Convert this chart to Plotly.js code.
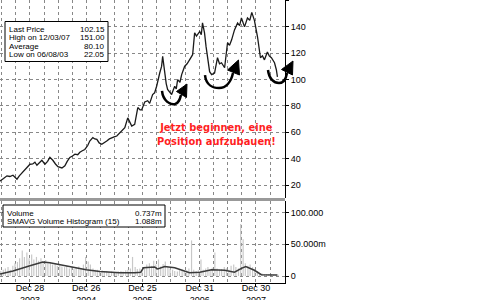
<!DOCTYPE html>
<html><head><meta charset="utf-8">
<script src="https://cdn.plot.ly/plotly-3.0.1.min.js"></script>
<style>html,body{margin:0;padding:0;background:#fff}#chart{width:480px;height:300px}</style>
</head><body><div id="chart"></div>
<script>
// ---- data ----
const priceDates = ['2003-06-10','2003-06-20','2003-07-10','2003-08-01','2003-08-20','2003-09-09','2003-09-25','2003-10-05','2003-10-20','2003-11-13','2003-12-05','2003-12-28','2004-01-15','2004-01-29','2004-02-11','2004-02-25','2004-03-14','2004-04-03','2004-04-20','2004-05-05','2004-05-24','2004-06-10','2004-06-26','2004-07-22','2004-08-10','2004-08-25','2004-09-11','2004-09-28','2004-10-14','2004-11-01','2004-11-15','2004-12-01','2004-12-17','2005-01-05','2005-01-18','2005-02-07','2005-02-20','2005-03-05','2005-03-20','2005-04-06','2005-04-22','2005-05-08','2005-05-25','2005-06-10','2005-06-25','2005-07-12','2005-07-28','2005-08-13','2005-09-02','2005-09-21','2005-10-05','2005-10-17','2005-11-05','2005-11-25','2005-12-10','2005-12-20','2006-01-09','2006-01-28','2006-02-10','2006-03-01','2006-03-14','2006-03-27','2006-04-16','2006-04-28','2006-05-05','2006-05-18','2006-05-28','2006-06-06','2006-06-20','2006-07-02','2006-07-12','2006-07-22','2006-08-01','2006-08-10','2006-08-25','2006-09-05','2006-09-24','2006-10-10','2006-10-26','2006-11-15','2006-11-28','2006-12-10','2006-12-31','2007-01-10','2007-01-18','2007-01-31','2007-02-10','2007-02-20','2007-03-05','2007-03-18','2007-04-06','2007-04-25','2007-05-08','2007-05-21','2007-06-10','2007-06-29','2007-07-12','2007-07-25','2007-08-13','2007-09-02','2007-09-15','2007-09-27','2007-10-17','2007-11-05','2007-11-20','2007-12-03','2007-12-20','2008-01-09','2008-01-28','2008-02-10','2008-02-23','2008-03-13','2008-03-25','2008-04-08','2008-04-28','2008-05-10','2008-05-17'];
const priceValues = [22.5,23.2,25,27,26.5,27.5,26,24.5,27,29.8,33,35.8,36,37.3,35,37,38.8,35.8,38,41,38.8,36,34,33,34.6,38,41,42,43.4,43,44.9,46,47,50,53.4,56,55,54.7,52,51,52,53.4,55,56,56.5,57.2,59,61,63.5,71,67,64.8,66,78.8,77,77,83,84,82,88.7,90,95,105,110,117.6,105,97,92.5,90,88.7,92,95,93,100,98,103.8,110,112,115,118.9,135.5,133,136.5,134,143,135.5,125,115,106,103.8,105,116.6,112,112.8,109,128,126,130,137.7,143,141,146.8,140,146.8,145,151,145,132.5,116.6,118,115,121,118,116.6,112.8,107.5,102.15];

const volMonths = ['2003-06','2003-07','2003-08','2003-09','2003-10','2003-11','2003-12','2004-01','2004-02','2004-03','2004-04','2004-05','2004-06','2004-07','2004-08','2004-09','2004-10','2004-11','2004-12','2005-01','2005-02','2005-03','2005-04','2005-05','2005-06','2005-07','2005-08','2005-09','2005-10','2005-11','2005-12','2006-01','2006-02','2006-03','2006-04','2006-05','2006-06','2006-07','2006-08','2006-09','2006-10','2006-11','2006-12','2007-01','2007-02','2007-03','2007-04','2007-05','2007-06','2007-07','2007-08','2007-09','2007-10','2007-11','2007-12','2008-01','2008-02','2008-03','2008-04','2008-05'];
const volFirstHalf  = [6,10,14,16,22,40,37,34,30,28,25,22,20,17,14,12,11,15,18,23,12,10,9,8,7,6,8,9,12,14,12,14,20,24,26,19,14,10,7,10,9,56,8,26,12,11,37,10,14,10,18,12,58,16,14,8,4,3,3,2];
const volSecondHalf = [8,12,10,20,28,30,28,26,24,22,20,18,16,15,16,14,13,12,30,18,10,8,7,6,6,7,7,10,30,11,10,18,16,18,15,23,12,8,9,8,12,10,9,10,14,13,12,11,12,16,14,82,20,18,10,5,3,3,2,2];

const smaDates  = ['2003-06-17','2003-09-09','2003-12-28','2004-03-20','2004-05-05','2004-07-10','2004-10-14','2004-12-26','2005-03-25','2005-07-30','2005-11-05','2005-12-14','2006-01-01','2006-03-14','2006-04-03','2006-05-18','2006-07-22','2006-10-26','2006-12-31','2007-03-18','2007-06-10','2007-08-13','2007-09-27','2007-10-25','2007-12-20','2008-02-03','2008-05-17'];
const smaValues = [3,8,16,22,21,18,13,10,7,5,5,6,13,14,11,15,13,5,6,10,9,6,12,15,9,2,1.5];

const gridDates = ['2003-06-29','2003-09-28','2003-12-28','2004-03-28','2004-06-27','2004-09-26','2004-12-26','2005-03-27','2005-06-26','2005-09-25','2005-12-25','2006-03-26','2006-06-25','2006-10-01','2006-12-31','2007-04-01','2007-07-01','2007-09-30','2007-12-30','2008-03-30','2008-06-29'];
const yearTickDates = ['2003-12-28','2004-12-26','2005-12-25','2006-12-31','2007-12-30'];
const yearTickText  = ['Dec 28<br>2003','Dec 26<br>2004','Dec 25<br>2005','Dec 31<br>2006','Dec 30<br>2007'];
const priceTicks = [20,40,60,80,100,120,140,160];
const volTicks = [0,50,100];
const volTickText = ['0','50.000m','100.000'];

const infoLabels = ['Last Price','High on 12/03/07','Average','Low on 06/08/03'];
const infoValues = ['102.15','151.00','80.10','22.05'];
const volLabels = ['Volume','SMAVG Volume Histogram (15)'];
const volLegendValues = ['0.737m','1.088m'];
const callout = 'Jetzt beginnen, eine<br>Position aufzubauen!';

// build volume bar arrays
const volDates = [], volValues = [];
volMonths.forEach((m,i)=>{ volDates.push(m+'-08'); volValues.push(volFirstHalf[i]); volDates.push(m+'-22'); volValues.push(volSecondHalf[i]); });

// ---- layout helpers (pixel -> paper) ----
const PW = 285, PH = 283;
const X = p => p / PW, Y = p => 1 - p / PH;
function pathOf(pts){ return pts.map(p => X(p[0]).toFixed(5)+','+Y(p[1]).toFixed(5)).join(' '); }

const font = {family:'Liberation Sans, Arial, sans-serif', size:9, color:'#000'};
const boxFont = {family:'Liberation Sans, Arial, sans-serif', size:8, color:'#000'};
const shapes = [];
const annotations = [];

// info box
shapes.push({type:'rect', xref:'paper', yref:'paper', x0:X(5), x1:X(108), y0:Y(21.5), y1:Y(61.5), line:{color:'#000',width:1}, fillcolor:'#fff', layer:'above'});
const infoRows = [29, 37.5, 46, 54.5];
infoLabels.forEach((t,i)=>{
  annotations.push({xref:'paper',yref:'paper',x:X(7),y:Y(infoRows[i]),xanchor:'left',yanchor:'middle',text:t,showarrow:false,font:boxFont});
  annotations.push({xref:'paper',yref:'paper',x:X(107),y:Y(infoRows[i]),xanchor:'right',yanchor:'middle',text:infoValues[i],showarrow:false,font:boxFont});
});
// volume box
shapes.push({type:'rect', xref:'paper', yref:'paper', x0:X(3), x1:X(165), y0:Y(205), y1:Y(227), line:{color:'#000',width:1}, fillcolor:'#fff', layer:'above'});
const volRows = [213, 221.5];
volLabels.forEach((t,i)=>{
  annotations.push({xref:'paper',yref:'paper',x:X(5),y:Y(volRows[i]),xanchor:'left',yanchor:'middle',text:t,showarrow:false,font:boxFont});
  annotations.push({xref:'paper',yref:'paper',x:X(164),y:Y(volRows[i]),xanchor:'right',yanchor:'middle',text:volLegendValues[i],showarrow:false,font:boxFont});
});
// separator
shapes.push({type:'line', xref:'paper', yref:'paper', x0:0, x1:1, y0:Y(199.5), y1:Y(199.5), line:{color:'#999',width:3}, layer:'above'});

// red call-out
annotations.push({xref:'paper',yref:'paper',x:X(216),y:Y(134.5),xanchor:'center',yanchor:'middle',text:callout,showarrow:false,
  font:{family:'DejaVu Sans Condensed, Liberation Sans Narrow, Arial Narrow, sans-serif', size:11, color:'#ff1f1f', weight:'bold'}});

// curved arrows
function arrow(curve, head){
  shapes.push({type:'path', xref:'paper', yref:'paper', path:curve, line:{color:'#000',width:2.5}, layer:'above'});
  shapes.push({type:'path', xref:'paper', yref:'paper', path:head, fillcolor:'#000', line:{color:'#000',width:1}, layer:'above'});
}
arrow('M '+pathOf([[162,91]])+' C '+pathOf([[163,101],[170,105],[175,104]])+' C '+pathOf([[179,103],[180,99],[181,95]]),
      'M '+pathOf([[187,84]])+' L '+pathOf([[186.5,97.5]])+' L '+pathOf([[176.5,91.5]])+' Z');
arrow('M '+pathOf([[205,75]])+' C '+pathOf([[206,85],[213,88],[219,88]])+' C '+pathOf([[226,88],[231,82],[233,73]]),
      'M '+pathOf([[238.5,60]])+' L '+pathOf([[239.5,75]])+' L '+pathOf([[227.5,70]])+' Z');
arrow('M '+pathOf([[268,70]])+' C '+pathOf([[269,79],[274,83],[279,83]])+' C '+pathOf([[283,83],[286,79],[287,73]]),
      'M '+pathOf([[293,61]])+' L '+pathOf([[292.5,75]])+' L '+pathOf([[281.5,69.5]])+' Z');

const data = [
  {type:'bar', x:volDates, y:volValues, yaxis:'y2', marker:{color:'#c8c8c8', line:{width:0}}, hoverinfo:'skip'},
  {type:'scatter', mode:'lines', x:smaDates, y:smaValues, yaxis:'y2', line:{color:'#3a3a3a', width:1.5}, hoverinfo:'skip'},
  {type:'scatter', mode:'lines', x:priceDates, y:priceValues, yaxis:'y', line:{color:'#1a1a1a', width:1.3}, hoverinfo:'skip'}
];

const gridStyle = {gridcolor:'#888', griddash:'dot', gridwidth:1};
const layout = {
  width:480, height:300, margin:{l:0, r:195, t:0, b:17},
  paper_bgcolor:'#fff', plot_bgcolor:'#fff', showlegend:false, bargap:0.45, font,
  xaxis:Object.assign({type:'date', range:['2003-06-17','2008-07-05'], anchor:'y2',
    tickmode:'array', tickvals:yearTickDates, ticktext:yearTickText, ticks:'outside', ticklen:3, tickcolor:'#000',
    ticklabelstandoff:-7,
    showgrid:true, showline:true, linecolor:'#000', linewidth:1, zeroline:false,
    minor:{tickmode:'array', tickvals:gridDates, showgrid:true, gridcolor:'#888', griddash:'dot', ticklen:0},
    tickfont:font}, gridStyle),
  yaxis:Object.assign({domain:[0.3004,1], side:'right', range:[10.2,160.4], tickmode:'array', tickvals:priceTicks,
    ticks:'outside', ticklen:3, tickcolor:'#000', showline:true, mirror:true, linecolor:'#000', zeroline:false, tickfont:font}, gridStyle),
  yaxis2:Object.assign({domain:[0,0.2898], side:'right', range:[-11,118], tickmode:'array', tickvals:volTicks, ticktext:volTickText,
    ticks:'outside', ticklen:3, tickcolor:'#000', showline:true, mirror:true, linecolor:'#000', zeroline:false, tickfont:font}, gridStyle),
  shapes, annotations
};
Plotly.newPlot('chart', data, layout, {staticPlot:true, displayModeBar:false});
</script></body></html>
